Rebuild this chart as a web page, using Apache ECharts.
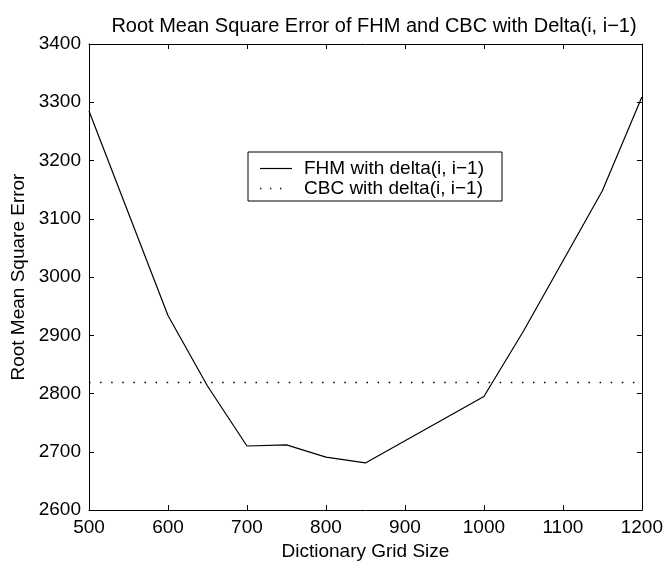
<!DOCTYPE html>
<html>
<head>
<meta charset="utf-8">
<script src="https://cdn.jsdelivr.net/npm/echarts@6/dist/echarts.min.js"></script>
<style>
html,body{margin:0;padding:0;background:#fff;}
#chart{width:666px;height:566px;}
</style>
</head>
<body>
<div id="chart"></div>
<script>
const titleText = 'Root Mean Square Error of FHM and CBC with Delta(i, i\u22121)';
const xAxisName = 'Dictionary Grid Size';
const yAxisName = 'Root Mean Square Error';
const fhmName = 'FHM with delta(i, i\u22121)';
const cbcName = 'CBC with delta(i, i\u22121)';

const gridSizes = [500, 600, 650, 700, 750, 800, 850, 1000, 1050, 1150, 1200];
const fhmRmse   = [3285, 2934, 2813, 2710, 2712, 2691, 2681, 2795, 2907, 3148, 3309];
const cbcSizes  = [500, 1200];
const cbcRmse   = [2819, 2819];

const xMin = 500, xMax = 1200, xStep = 100;
const yMin = 2600, yMax = 3400, yStep = 100;

const FONT = '"Liberation Sans", Arial, Helvetica, sans-serif';

const fhmData = gridSizes.map((x, i) => [x, fhmRmse[i]]);
const cbcData = cbcSizes.map((x, i) => [x, cbcRmse[i]]);

const solidIcon = 'path://M0,0H32V1.2H0Z';
const dottedIcon = 'path://M0,0h1.3v1.3h-1.3z M10,0h1.3v1.3h-1.3z M20,0h1.3v1.3h-1.3z M32,0';

const axisCommon = {
  type: 'value',
  axisLine: { show: true, onZero: false, lineStyle: { color: '#000', width: 1 } },
  axisTick: { show: true, inside: true, length: 5, lineStyle: { color: '#000', width: 1 } },
  splitLine: { show: false },
  axisLabel: { color: '#000', fontSize: 19, fontFamily: FONT, margin: 8, formatter: v => String(v) }
};

const chart = echarts.init(document.getElementById('chart'), null, { renderer: 'canvas' });
chart.setOption({
  animation: false,
  backgroundColor: '#fff',
  title: {
    text: titleText,
    left: 369,
    textAlign: 'center',
    top: 11,
    textStyle: { color: '#000', fontSize: 20, fontWeight: 'normal', fontFamily: FONT }
  },
  grid: { left: 89, right: 23, top: 44, bottom: 55, containLabel: false },
  legend: {
    show: true,
    orient: 'vertical',
    left: 248,
    top: 152,
    padding: [7, 18, 3, 12],
    itemGap: 1,
    itemWidth: 32,
    itemHeight: 14,
    borderColor: '#000',
    borderWidth: 1,
    backgroundColor: '#fff',
    itemStyle: { color: '#000', borderWidth: 0 },
    textStyle: { color: '#000', fontSize: 19, fontFamily: FONT, padding: [0, 0, 0, 7] },
    data: [
      { name: fhmName, icon: solidIcon },
      { name: cbcName, icon: dottedIcon }
    ]
  },
  xAxis: [
    Object.assign({}, axisCommon, {
      position: 'bottom', min: xMin, max: xMax, interval: xStep,
      name: xAxisName, nameLocation: 'middle', nameGap: 24,
      nameTextStyle: { color: '#000', fontSize: 19, fontFamily: FONT }
    }),
    Object.assign({}, axisCommon, {
      position: 'top', min: xMin, max: xMax, interval: xStep,
      axisLabel: { show: false }
    })
  ],
  yAxis: [
    Object.assign({}, axisCommon, {
      position: 'left', min: yMin, max: yMax, interval: yStep,
      name: yAxisName, nameLocation: 'middle', nameGap: 61, nameRotate: 90,
      nameTextStyle: { color: '#000', fontSize: 19, fontFamily: FONT }
    }),
    Object.assign({}, axisCommon, {
      position: 'right', min: yMin, max: yMax, interval: yStep,
      axisLabel: { show: false }
    })
  ],
  series: [
    {
      name: fhmName,
      type: 'line',
      xAxisIndex: 0, yAxisIndex: 0,
      data: fhmData,
      showSymbol: false,
      symbol: 'none',
      lineStyle: { color: '#000', width: 1.2 },
      itemStyle: { color: '#000' }
    },
    {
      name: cbcName,
      type: 'line',
      xAxisIndex: 0, yAxisIndex: 0,
      data: cbcData,
      showSymbol: false,
      symbol: 'none',
      lineStyle: { color: '#000', width: 1.5, type: [1.5, 9.6] },
      itemStyle: { color: '#000' }
    }
  ]
});
</script>
</body>
</html>
